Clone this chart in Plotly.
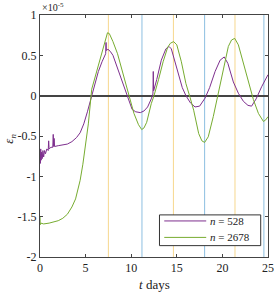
import plotly.graph_objects as go

# time axis (days) and epsilon_n values in units of 1e-5
purple_t = [0.00, 0.04, 0.08, 0.13, 0.18, 0.25, 0.32, 0.40, 0.50, 0.60, 0.75, 0.90, 0.95, 1.00,
            1.20, 1.40, 1.45, 1.50, 1.55, 1.60, 2.00, 2.50, 3.00, 3.50, 4.00, 4.40, 4.80, 5.20,
            5.60, 6.00, 6.40, 6.80, 7.00, 7.20, 7.24, 7.28, 7.45, 7.70, 8.00, 8.50, 9.00, 9.50,
            9.80, 10.10, 10.50, 11.00, 11.40, 11.80, 12.20, 12.38, 12.42, 12.46, 12.80, 13.30,
            13.80, 14.15, 14.40, 14.70, 15.20, 15.60, 16.00, 16.50, 17.00, 17.50, 18.10, 18.60,
            19.20, 19.75, 20.20, 20.60, 21.20, 21.75, 22.30, 22.80, 23.20, 23.70, 24.30, 25.00]
purple_v = [-0.72, -0.84, -0.66, -0.80, -0.70, -0.78, -0.68, -0.76, -0.68, -0.72, -0.66, -0.68,
            -0.56, -0.66, -0.64, -0.64, -0.48, -0.63, -0.53, -0.63, -0.62, -0.61, -0.60, -0.57,
            -0.52, -0.46, -0.35, -0.20, -0.03, 0.15, 0.30, 0.42, 0.48, 0.52, 0.66, 0.56, 0.575,
            0.55, 0.50, 0.34, 0.17, 0.01, -0.10, -0.17, -0.20, -0.21, -0.19, -0.14, -0.04, 0.02,
            0.30, 0.06, 0.20, 0.44, 0.58, 0.61, 0.58, 0.46, 0.25, 0.10, 0.00, -0.09, -0.14,
            -0.13, -0.03, 0.10, 0.30, 0.44, 0.48, 0.40, 0.17, 0.03, -0.07, -0.12, -0.13, -0.04,
            0.11, 0.26]

green_t = [0.00, 0.03, 0.06, 0.10, 0.40, 1.00, 2.00, 2.50, 3.00, 3.50, 3.90, 4.40, 4.70, 5.00,
           5.30, 5.67, 6.00, 6.50, 7.00, 7.40, 7.60, 8.00, 8.50, 9.00, 9.50, 9.80, 10.30, 10.80,
           11.15, 11.40, 11.70, 12.20, 12.50, 13.00, 13.50, 14.00, 14.30, 14.65, 15.00, 15.50,
           16.00, 16.45, 16.85, 17.40, 17.75, 18.05, 18.45, 19.00, 19.40, 19.75, 20.10, 20.65,
           21.00, 21.35, 21.75, 22.30, 22.85, 23.40, 23.95, 24.50, 24.75, 25.00]
green_v = [-1.50, -1.60, -1.54, -1.58, -1.59, -1.58, -1.55, -1.52, -1.47, -1.38, -1.28, -1.05,
           -0.85, -0.63, -0.35, 0.08, 0.22, 0.42, 0.62, 0.78, 0.77, 0.67, 0.52, 0.32, 0.10,
           -0.02, -0.22, -0.36, -0.42, -0.40, -0.33, -0.10, 0.00, 0.20, 0.42, 0.60, 0.65, 0.67,
           0.63, 0.42, 0.15, -0.02, -0.18, -0.47, -0.56, -0.58, -0.51, -0.26, -0.05, 0.11, 0.32,
           0.61, 0.69, 0.71, 0.63, 0.40, 0.15, -0.05, -0.22, -0.32, -0.30, -0.26]

orange_times = [7.5, 14.63, 21.38]
blue_times = [11.18, 18.05, 24.55]

series_names = ["<i>n</i> = 528", "<i>n</i> = 2678"]
series_colors = ["#7E2F8E", "#77AC30"]
x_ticks = [0, 5, 10, 15, 20, 25]
y_ticks = [1, 0.5, 0, -0.5, -1, -1.5, -2]
y_ticktext = ["1", "0.5", "0", "-0.5", "-1", "-1.5", "-2"]

FONT = "Liberation Serif, DejaVu Serif, serif"
AX = "#444444"
TXT = "#222222"

fig = go.Figure()
for tt, vv, nm, col in [(purple_t, purple_v, series_names[0], series_colors[0]),
                        (green_t, green_v, series_names[1], series_colors[1])]:
    fig.add_trace(go.Scatter(x=tt, y=vv, mode="lines", name=nm, showlegend=False,
                             line=dict(color=col, width=1)))

for t in orange_times:
    fig.add_shape(type="line", xref="x", yref="paper", x0=t, x1=t, y0=0, y1=1,
                  line=dict(color="rgba(237,177,32,0.5)", width=1), layer="below")
for t in blue_times:
    fig.add_shape(type="line", xref="x", yref="paper", x0=t, x1=t, y0=0, y1=1,
                  line=dict(color="rgba(0,114,189,0.45)", width=1), layer="below")

# legend box (drawn manually to match compact layout)
fig.add_shape(type="rect", xref="paper", yref="paper", x0=0.524, x1=0.968, y0=0.047, y1=0.174,
              line=dict(color="#333", width=1), fillcolor="white", layer="above")
for i, (nm, col) in enumerate(zip(series_names, series_colors)):
    yy = [0.149, 0.081][i]
    fig.add_shape(type="line", xref="paper", yref="paper", x0=0.545, x1=0.729, y0=yy, y1=yy,
                  line=dict(color=col, width=1), layer="above")
    fig.add_annotation(text=nm, xref="paper", yref="paper", x=0.737, y=yy,
                       xanchor="left", yanchor="middle", showarrow=False,
                       font=dict(family=FONT, size=11, color=TXT))

# exponent label
fig.add_annotation(text="×10<sup>-5</sup>", xref="paper", yref="paper", x=0, y=1,
                   xanchor="left", yanchor="bottom", showarrow=False, yshift=0,
                   font=dict(family=FONT, size=10, color=TXT))
# axis titles
fig.add_annotation(text="<i>t</i> days", xref="paper", yref="paper", x=0.5, y=-0.112,
                   xanchor="center", yanchor="middle", showarrow=False,
                   font=dict(family=FONT, size=13, color=TXT))
fig.add_annotation(text="<i>ε</i><sub><i>n</i></sub>", xref="paper", yref="paper",
                   x=-0.135, y=0.49, xanchor="center", yanchor="middle", showarrow=False,
                   textangle=-90, font=dict(family=FONT, size=13, color=TXT))

fig.update_layout(
    width=274, height=292,
    margin=dict(l=40, r=6, t=15, b=35),
    paper_bgcolor="white", plot_bgcolor="white",
    font=dict(family=FONT, size=12, color=TXT),
    showlegend=False,
)
fig.update_xaxes(range=[0, 25], tickvals=x_ticks, ticks="inside", ticklen=3,
                 tickcolor=AX, showline=True, linecolor=AX, mirror="allticks",
                 showgrid=False, zeroline=False, automargin=False)
fig.update_yaxes(range=[-2, 1], tickvals=y_ticks, ticktext=y_ticktext, ticks="inside",
                 ticklen=3, tickcolor=AX, showline=True, linecolor=AX, mirror="allticks",
                 showgrid=False, zeroline=True, zerolinecolor="#444", zerolinewidth=1.5,
                 automargin=False)

fig.write_html("out.html", config={"displayModeBar": False},
               post_script="document.body.style.margin='0';document.body.style.overflow='hidden';")
